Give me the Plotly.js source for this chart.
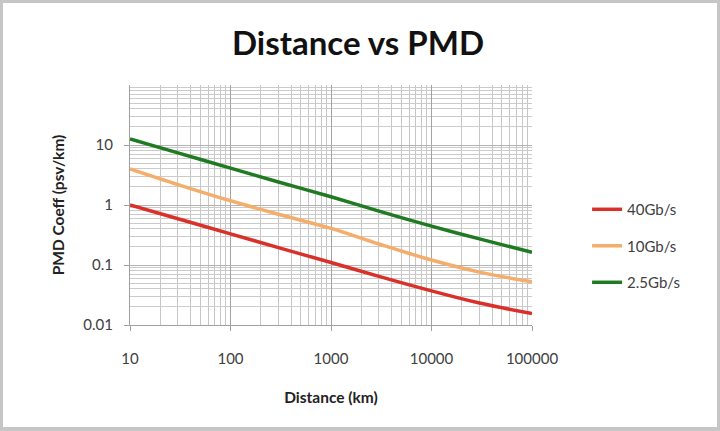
<!DOCTYPE html>
<html>
<head>
<meta charset="utf-8">
<script src="https://cdn.plot.ly/plotly-3.0.1.min.js"></script>
<style>
  html, body { margin: 0; padding: 0; background: #ffffff; }
  #wrap { position: relative; width: 720px; height: 431px; overflow: hidden; }
  #chart { position: absolute; left: 0; top: 0; width: 720px; height: 431px; }
  #frame { position: absolute; left: 0; top: 0; width: 720px; height: 431px; box-sizing: border-box;
           border-style: solid; border-color: #c6c6c6; border-width: 3px 3px 4px 3px; pointer-events: none; }
</style>
</head>
<body>
<div id="wrap"><div id="chart"></div><div id="frame"></div></div>
<script>
// Data
const distanceKm = [10, 30, 100, 300, 1000, 3000, 10000, 30000, 100000];
const pmd40 = [1.0, 0.59, 0.331, 0.195, 0.11, 0.0646, 0.037, 0.0232, 0.0155];
const pmd10 = [4.0, 2.19, 1.175, 0.70, 0.407, 0.224, 0.121, 0.076, 0.0525];
const pmd25 = [12.6, 7.4, 4.12, 2.42, 1.37, 0.79, 0.445, 0.272, 0.163];
const seriesNames = ['40Gb/s', '10Gb/s', '2.5Gb/s'];
const xTickVals = [10, 100, 1000, 10000, 100000];
const xTickText = ['10', '100', '1000', '10000', '100000'];
const yTickVals = [0.01, 0.1, 1, 10];
const yTickText = ['0.01', '0.1', '1', '10'];

const colors = ['#d9302a', '#f4ad6b', '#1f7a22'];
const series = [pmd40, pmd10, pmd25];

function minorVals(lo, hi, withTop) {
  const out = [];
  for (let d = lo; d < hi; d++) {
    for (let k = 2; k <= 9; k++) out.push(k * Math.pow(10, d));
  }
  if (withTop) out.push(Math.pow(10, hi));
  return out;
}

const traces = series.map((ys, i) => ({
  x: distanceKm, y: ys, name: seriesNames[i], type: 'scatter', mode: 'lines',
  legendgroup: 'g' + i,
  line: { color: colors[i], width: 3.5, shape: 'spline', smoothing: 1 }
}));

const fontFam = 'Lato, "Open Sans", sans-serif';
const layout = {
  width: 720, height: 431,
  margin: { l: 130, r: 188, t: 85, b: 106 },
  paper_bgcolor: '#ffffff', plot_bgcolor: '#ffffff',
  font: { family: fontFam, color: '#404040', size: 15 },
  title: { text: '<b>Distance vs PMD</b>', x: 358 / 720, xref: 'container', xanchor: 'center',
           y: 1 - 43 / 431, yref: 'container', yanchor: 'middle',
           font: { family: fontFam, size: 33, color: '#111111' } },
  xaxis: {
    type: 'log', range: [1, 5], tickmode: 'array', tickvals: xTickVals, ticktext: xTickText,
    showgrid: true, gridcolor: '#a3a3a3', gridwidth: 1,
    showline: true, linecolor: '#a0a0a0', linewidth: 1,
    ticks: 'outside', ticklen: 5, tickcolor: '#a0a0a0', ticklabelstandoff: 15,
    tickfont: { size: 15, color: '#404040' },
    minor: { tickmode: 'array', tickvals: minorVals(1, 5, false), showgrid: true, gridcolor: '#c6c6c6', gridwidth: 1, ticks: '' },
    zeroline: false, fixedrange: true,
    title: { text: '<b>Distance (km)</b>', standoff: 26, font: { family: fontFam, size: 15.5, color: '#222222' } }
  },
  yaxis: {
    type: 'log', range: [-2, 2], tickmode: 'array', tickvals: yTickVals, ticktext: yTickText,
    showgrid: true, gridcolor: '#b3b3b3', gridwidth: 1,
    showline: true, linecolor: '#a0a0a0', linewidth: 1,
    ticks: 'outside', ticklen: 5, tickcolor: '#a0a0a0', ticklabelstandoff: 8,
    tickfont: { size: 15, color: '#404040' },
    minor: { tickmode: 'array', tickvals: minorVals(-2, 2, true), showgrid: true, gridcolor: '#cbcbcb', gridwidth: 1, ticks: '' },
    zeroline: false, fixedrange: true,
    title: { text: '<b>PMD Coeff (psv/km)</b>', standoff: 14, font: { family: fontFam, size: 15.5, color: '#222222' } }
  },
  showlegend: true,
  legend: {
    x: 1.137, xanchor: 'left', y: 0.329, yanchor: 'middle',
    traceorder: 'grouped', tracegroupgap: 14,
    font: { family: fontFam, size: 15, color: '#404040' },
    bgcolor: 'rgba(0,0,0,0)'
  }
};

Plotly.newPlot('chart', traces, layout, { staticPlot: true, displayModeBar: false });
</script>
</body>
</html>
